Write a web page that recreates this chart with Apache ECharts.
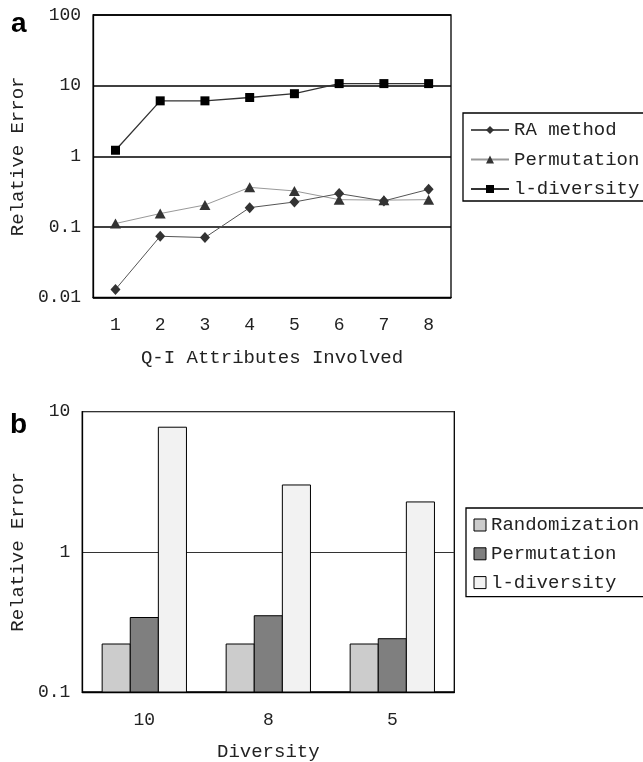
<!DOCTYPE html>
<html>
<head>
<meta charset="utf-8">
<script src="https://cdn.jsdelivr.net/npm/echarts@6/dist/echarts.min.js"></script>
<style>html,body{margin:0;padding:0;background:#fff}#c{width:643px;height:762px}</style>
</head>
<body>
<div id="c"></div>
<script>
// ---- Data ----
const qiCategories = ['1','2','3','4','5','6','7','8'];
const raMethod    = [0.0131, 0.074, 0.071, 0.188, 0.226, 0.297, 0.234, 0.341];
const permutationA = [0.112, 0.155, 0.205, 0.364, 0.324, 0.244, 0.240, 0.244];
const lDiversityA = [1.22, 6.1, 6.1, 6.8, 7.7, 10.7, 10.7, 10.7];

const diversityCategories = ['10','8','5'];
const randomizationB = [0.22, 0.22, 0.22];
const permutationB   = [0.34, 0.35, 0.24];
const lDiversityB    = [7.75, 3.0, 2.27];

const FONT = 'Liberation Mono';
const TXT = '#222';

const chart = echarts.init(document.getElementById('c'), null, {renderer:'canvas'});

const axisLabelStyle = {fontFamily: FONT, fontSize: 18, color: TXT};

// bars on a log axis drawn from the axis floor (0.1) using the axis' own scale
const GROUP_FRACTION = 0.68;
function logBar(name, data, idx, color) {
  return {
    type: 'custom', name: name, xAxisIndex: 1, yAxisIndex: 1,
    data: data.map((v, i) => [i, v]),
    encode: {x: 0, y: 1},
    itemStyle: {color: color, borderColor: '#000', borderWidth: 1},
    renderItem: function (params, api) {
      const cat = api.value(0), val = api.value(1);
      const top = api.coord([cat, val]);
      const base = api.coord([cat, 0.1]);
      const band = api.coord([1, 1])[0] - api.coord([0, 1])[0];
      const groupW = band * GROUP_FRACTION;
      const w = groupW / 3;
      const x0 = top[0] - groupW / 2 + idx * w;
      return {
        type: 'rect',
        shape: {x: x0, y: top[1], width: w, height: base[1] - top[1]},
        style: {fill: color, stroke: '#000', lineWidth: 1}
      };
    }
  };
}

chart.setOption({
  animation: false,
  backgroundColor: '#fff',
  title: [
    {text: 'a', left: 6, top: 5, textStyle: {fontFamily: 'Liberation Sans', fontWeight: 'bold', fontSize: 28, color: '#000'}},
    {text: 'b', left: 5, top: 406, textStyle: {fontFamily: 'Liberation Sans', fontWeight: 'bold', fontSize: 28, color: '#000'}}
  ],
  grid: [
    {left: 91.7, top: 15, width: 359.3, height: 282.7, show: true, borderColor: '#000', borderWidth: 1.3, backgroundColor: 'transparent'},
    {left: 81, top: 411.7, width: 373.3, height: 281.6, show: true, borderColor: '#000', borderWidth: 1.3, backgroundColor: 'transparent'}
  ],
  legend: [
    {
      data: ['RA method','Permutation','l-diversity'].map(n => ({name: n})),
      orient: 'vertical', left: 463, top: 113,
      width: 300,
      padding: [7, 8, 2, 7],
      itemWidth: 38, itemHeight: 10, itemGap: 9.5, itemTextGap: 2,
      borderColor: '#000', borderWidth: 1.3, borderRadius: 0,
      textStyle: {fontFamily: FONT, fontSize: 19, color: TXT, lineHeight: 20, height: 20},
      selectedMode: false
    },
    {
      data: [
        {name: 'Randomization', icon: 'rect', itemStyle: {color: '#cccccc', borderColor: '#000', borderWidth: 1}},
        {name: 'Permutation ', icon: 'rect', itemStyle: {color: '#7f7f7f', borderColor: '#000', borderWidth: 1}},
        {name: 'l-diversity ', icon: 'rect', itemStyle: {color: '#f2f2f2', borderColor: '#000', borderWidth: 1}}
      ],
      orient: 'vertical', left: 466, top: 508,
      width: 300,
      padding: [7, 8, 4, 7.5],
      itemWidth: 12, itemHeight: 12, itemGap: 8.8, itemTextGap: 6,
      borderColor: '#000', borderWidth: 1.3, borderRadius: 0,
      textStyle: {fontFamily: FONT, fontSize: 19, color: TXT, lineHeight: 20, height: 20},
      selectedMode: false
    }
  ],
  xAxis: [
    {
      type: 'category', gridIndex: 0, data: qiCategories, boundaryGap: true,
      axisLine: {lineStyle: {color: '#000', width: 1.3}},
      axisTick: {inside: true, length: 5, lineStyle: {color: '#000', width: 1.2}},
      axisLabel: Object.assign({margin: 19}, axisLabelStyle),
      name: 'Q-I Attributes Involved', nameLocation: 'middle', nameGap: 51,
      nameTextStyle: {fontFamily: FONT, fontSize: 19, color: TXT}
    },
    {
      type: 'category', gridIndex: 1, data: diversityCategories, boundaryGap: true,
      axisLine: {lineStyle: {color: '#000', width: 1.3}},
      axisTick: {inside: true, length: 5, lineStyle: {color: '#000', width: 1.2}},
      axisLabel: Object.assign({margin: 19}, axisLabelStyle),
      name: 'Diversity', nameLocation: 'middle', nameGap: 50,
      nameTextStyle: {fontFamily: FONT, fontSize: 19, color: TXT}
    }
  ],
  yAxis: [
    {
      type: 'log', logBase: 10, gridIndex: 0, min: 0.01, max: 100,
      axisLine: {show: true, lineStyle: {color: '#000', width: 1.3}},
      axisTick: {show: false},
      splitLine: {show: true, lineStyle: {color: '#000', width: 1.5}},
      axisLabel: Object.assign({margin: 12, formatter: v => String(v)}, axisLabelStyle),
      name: 'Relative Error', nameLocation: 'middle', nameGap: 64,
      nameTextStyle: {fontFamily: FONT, fontSize: 19, color: TXT}
    },
    {
      type: 'log', logBase: 10, gridIndex: 1, min: 0.1, max: 10,
      axisLine: {show: true, lineStyle: {color: '#000', width: 1.3}},
      axisTick: {show: false},
      splitLine: {show: true, lineStyle: {color: '#333', width: 1}},
      axisLabel: Object.assign({margin: 12, formatter: v => String(v)}, axisLabelStyle),
      name: 'Relative Error', nameLocation: 'middle', nameGap: 54,
      nameTextStyle: {fontFamily: FONT, fontSize: 19, color: TXT}
    }
  ],
  series: [
    {
      name: 'RA method', type: 'line', xAxisIndex: 0, yAxisIndex: 0, data: raMethod,
      symbol: 'diamond', symbolSize: [10, 11],
      lineStyle: {color: '#555', width: 1},
      itemStyle: {color: '#333'}, z: 3
    },
    {
      name: 'Permutation', type: 'line', xAxisIndex: 0, yAxisIndex: 0, data: permutationA,
      symbol: 'triangle', symbolSize: [11, 10],
      lineStyle: {color: '#999', width: 1},
      itemStyle: {color: '#333'}, z: 2
    },
    {
      name: 'l-diversity', type: 'line', xAxisIndex: 0, yAxisIndex: 0, data: lDiversityA,
      symbol: 'rect', symbolSize: 9,
      lineStyle: {color: '#333', width: 1.3},
      itemStyle: {color: '#000'}, z: 4
    },
    logBar('Randomization', randomizationB, 0, '#cccccc'),
    logBar('Permutation ', permutationB, 1, '#7f7f7f'),
    logBar('l-diversity ', lDiversityB, 2, '#f2f2f2')
  ]
});
</script>
</body>
</html>
